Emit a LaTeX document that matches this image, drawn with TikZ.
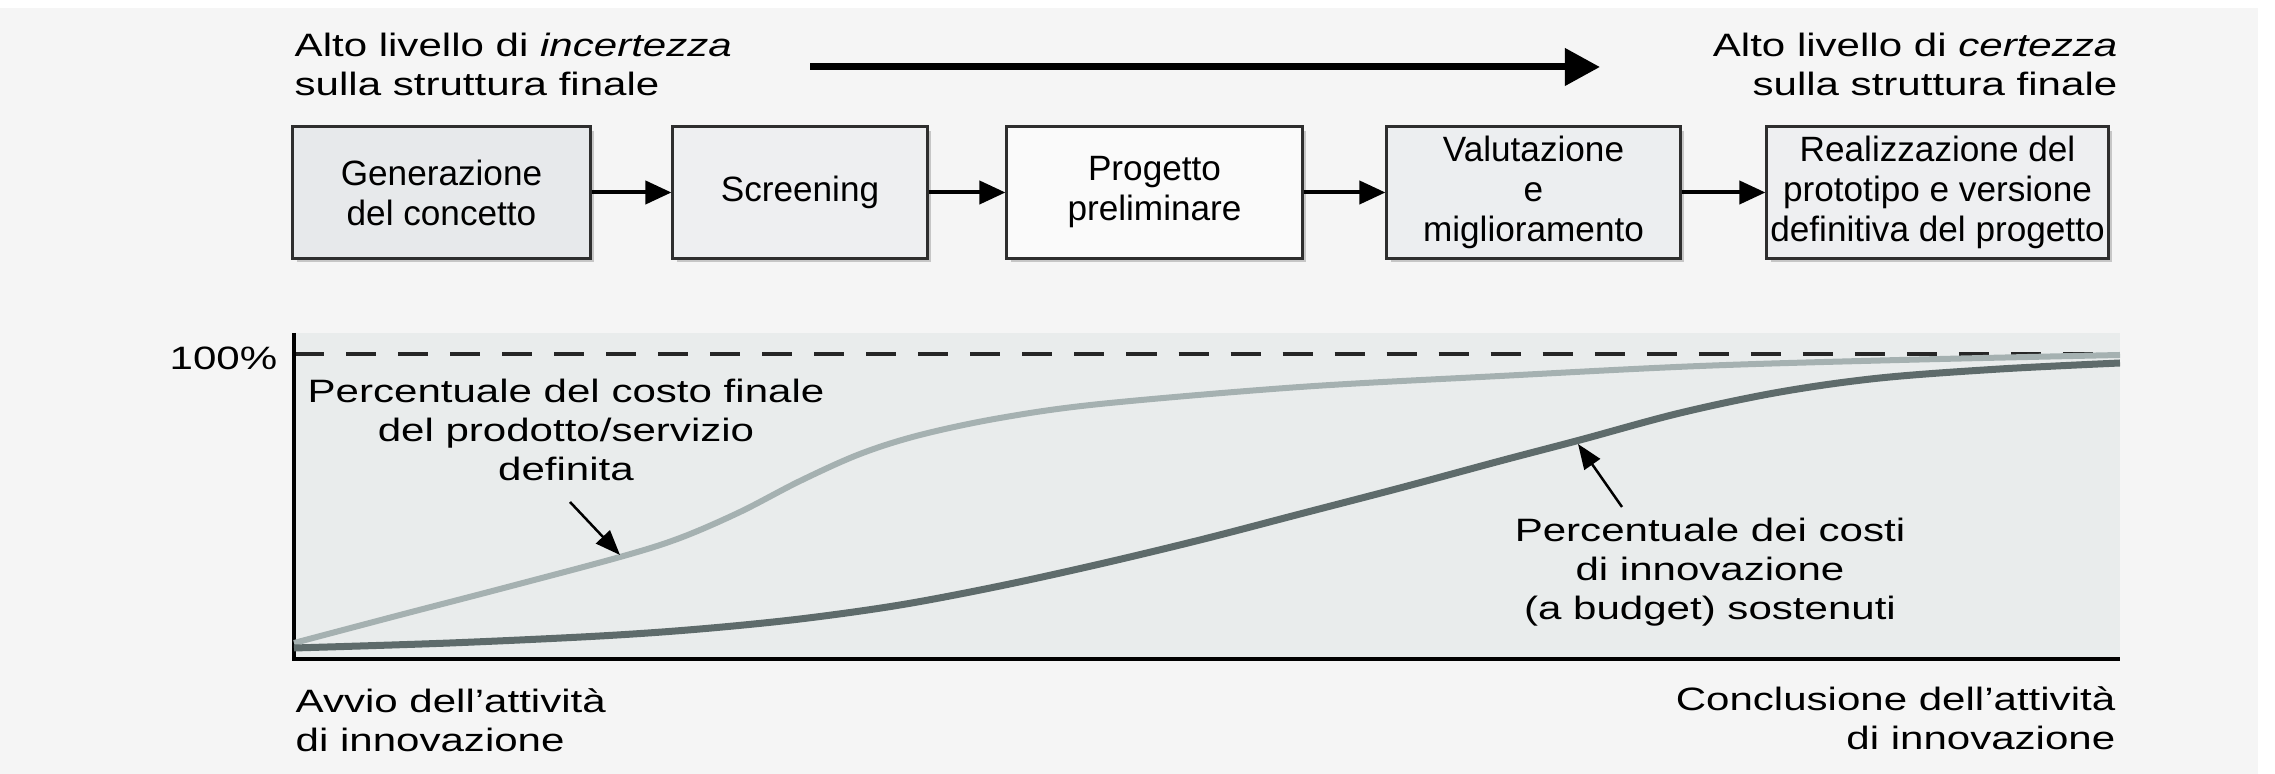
\documentclass[tikz,border=0pt]{standalone}
\usepackage{fontspec}
\setmainfont{Liberation Sans}
\newfontfamily\widefont{Liberation Sans}[FakeStretch=1.3]
\usetikzlibrary{arrows.meta,shadows}
\definecolor{pagegray}{HTML}{F5F5F5}
\definecolor{plotgray}{HTML}{E9ECEC}
\definecolor{lightcurve}{HTML}{A5B1B1}
\definecolor{darkcurve}{HTML}{5E6B6B}
\definecolor{boxline}{HTML}{2E2E2E}
\definecolor{fillA}{HTML}{E7E9EB}
\definecolor{fillB}{HTML}{EEEFF1}
\definecolor{fillC}{HTML}{FAFAFA}
\definecolor{fillD}{HTML}{ECEEF0}
\tikzset{
  stage/.style={draw=boxline, line width=0.03cm, align=center, inner sep=0pt,
    font=\fontsize{10}{11.4}\selectfont, minimum height=1.31cm,
    drop shadow={shadow xshift=0.04cm, shadow yshift=-0.04cm, fill=black!40, opacity=0.5}},
  flow/.style={-{Triangle[length=0.26cm,width=0.23cm]}, line width=0.04cm},
  note/.style={font=\widefont\fontsize{9.2}{11.1}\selectfont, inner sep=0pt},
  pointer/.style={-{Triangle[length=0.25cm,width=0.19cm]}, line width=0.025cm},
}
\begin{document}
\begin{tikzpicture}[x=0.01cm, y=-0.01cm]
\fill[white] (0,0) rectangle (2275,774);
\useasboundingbox (0,0) rectangle (2275,774);
\fill[pagegray] (0,8) rectangle (2258,774);

% from uncertainty to certainty
\node[note, anchor=north west, align=left] (uncertain) at (294,32)
  {Alto livello di \textit{incertezza}\\sulla struttura finale};
\node[note, anchor=north east, align=right] (certain) at (2118,32)
  {Alto livello di \textit{certezza}\\sulla struttura finale};
\coordinate (gofrom) at (810,67);
\coordinate (goto) at (1600,67);
\draw[-{Triangle[length=0.35cm,width=0.36cm]}, line width=0.07cm] (gofrom) -- (goto);

% stages
\node[stage, minimum width=2.97cm, fill=fillA] (concept) at (441.5,192.5) {Generazione\\del concetto};
\node[stage, minimum width=2.54cm, fill=fillB] (screen) at (800,192.5) {Screening};
\node[stage, minimum width=2.95cm, fill=fillC] (prelim) at (1154.5,192.5) {Progetto\\preliminare};
\node[stage, minimum width=2.93cm, fill=fillD] (review) at (1533.5,192.5) {Valutazione\\e\\miglioramento};
\node[stage, minimum width=3.41cm, fill=fillB] (proto) at (1937.5,192.5) {Realizzazione del\\prototipo e versione\\definitiva del progetto};
\draw[flow] (concept) -- (screen);
\draw[flow] (screen) -- (prelim);
\draw[flow] (prelim) -- (review);
\draw[flow] (review) -- (proto);

% chart
\fill[plotgray] (294,333) rectangle (2120,659);
\draw[line width=0.04cm, black!85, dash pattern=on 0.3cm off 0.22cm] (294,354) -- (2120,354);
\draw[line width=0.035cm] (294,333) -- (294,659) -- (2120,659);
\node[note, anchor=base east] (full) at (278,370) {100\%};

\draw[lightcurve, line width=0.06cm] plot[smooth, tension=0.55] coordinates {
  (294,643) (400,615) (500,589) (620,557) (680,538) (740,512) (800,481)
  (860,454) (920,435) (1000,418) (1100,404) (1300,387) (1500,376)
  (1700,366) (1900,360) (2120,355)};
\draw[darkcurve, line width=0.07cm] plot[smooth, tension=0.55] coordinates {
  (294,648) (450,643) (600,636) (700,629) (800,619) (900,605) (1000,586)
  (1100,564) (1200,540) (1300,514) (1400,488) (1500,461) (1580,440)
  (1680,413) (1780,392) (1880,378) (2000,369) (2120,363)};

\node[note, align=center, anchor=north] (finalcost) at (566,378)
  {Percentuale del costo finale\\del prodotto/servizio\\definita};
\node[note, align=center, anchor=north] (spent) at (1710,517)
  {Percentuale dei costi\\di innovazione\\(a budget) sostenuti};
\coordinate (lefttail) at (570,502);
\coordinate (lefttip) at (620,555);
\coordinate (righttail) at (1622,507);
\coordinate (righttip) at (1578,444);
\draw[pointer] (lefttail) -- (lefttip);
\draw[pointer] (righttail) -- (righttip);

\node[note, anchor=north west, align=left] (start) at (295,688)
  {Avvio dell’attività\\di innovazione};
\node[note, anchor=north east, align=right] (finish) at (2116,686)
  {Conclusione dell’attività\\di innovazione};
\end{tikzpicture}
\end{document}
